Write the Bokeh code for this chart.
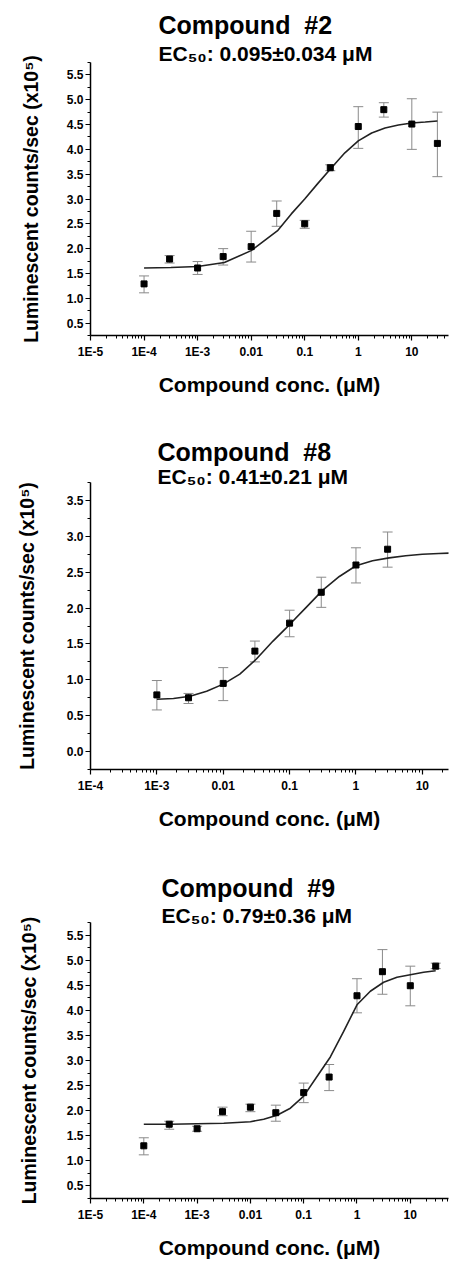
from bokeh.plotting import figure
from bokeh.models import (FixedTicker, Title, Whisker, ColumnDataSource, Range1d,
                          PrintfTickFormatter, TeeHead)
from bokeh.layouts import column
from bokeh.embed import file_html
from bokeh.resources import INLINE

# ---------------- data ----------------
titles = ["Compound \u00a0#2", "Compound \u00a0#8", "Compound \u00a0#9"]
subtitles = ["EC\u2085\u2080: 0.095\u00b10.034 \u03bcM",
             "EC\u2085\u2080: 0.41\u00b10.21 \u03bcM",
             "EC\u2085\u2080: 0.79\u00b10.36 \u03bcM"]

# Compound #2
conc1 = [1e-4, 3e-4, 1e-3, 3e-3, 1e-2, 3e-2, 0.1, 0.3, 1, 3, 10, 30]
mean1 = [1.29, 1.79, 1.61, 1.84, 2.04, 2.71, 2.50, 3.63, 4.46, 4.80, 4.51, 4.12]
hi1 = [1.45, 1.86, 1.74, 2.00, 2.35, 2.96, 2.57, 3.69, 4.86, 4.94, 5.02, 4.75]
lo1 = [1.11, 1.71, 1.48, 1.67, 1.73, 2.45, 2.41, 3.57, 4.02, 4.65, 4.00, 3.45]
fit1_logx = [-4, -3.5, -3, -2.5, -2, -1.5, -1.25, -1, -0.75, -0.5, -0.25, 0, 0.25, 0.5, 0.75, 1, 1.25, 1.477]
fit1_y = [1.61, 1.62, 1.64, 1.72, 1.96, 2.37, 2.70, 3.00, 3.32, 3.63, 3.93, 4.17, 4.33, 4.43, 4.49, 4.53, 4.55, 4.57]

# Compound #8
conc2 = [1e-3, 3e-3, 1e-2, 3e-2, 0.1, 0.3, 1, 3]
mean2 = [0.79, 0.75, 0.95, 1.40, 1.79, 2.22, 2.60, 2.82]
hi2 = [0.99, 0.81, 1.17, 1.54, 1.97, 2.43, 2.84, 3.06]
lo2 = [0.58, 0.67, 0.71, 1.25, 1.60, 2.01, 2.35, 2.57]
fit2_logx = [-3, -2.75, -2.5, -2.25, -2, -1.75, -1.5, -1.25, -1, -0.75, -0.5, -0.25, 0, 0.25, 0.5, 0.75, 1, 1.25, 1.5]
fit2_y = [0.73, 0.74, 0.77, 0.84, 0.94, 1.08, 1.29, 1.54, 1.77, 2.01, 2.25, 2.44, 2.59, 2.66, 2.70, 2.73, 2.75, 2.76, 2.77]

# Compound #9
conc3 = [1e-4, 3e-4, 1e-3, 3e-3, 1e-2, 3e-2, 0.1, 0.3, 1, 3, 10, 30]
mean3 = [1.30, 1.73, 1.64, 1.98, 2.07, 1.96, 2.36, 2.67, 4.29, 4.77, 4.49, 4.88]
hi3 = [1.46, 1.79, 1.69, 2.07, 2.13, 2.11, 2.55, 2.92, 4.63, 5.21, 4.88, 4.94]
lo3 = [1.12, 1.63, 1.59, 1.90, 1.98, 1.79, 2.16, 2.40, 3.95, 4.32, 4.09, 4.83]
fit3_logx = [-4, -3.5, -3, -2.5, -2, -1.75, -1.5, -1.25, -1, -0.75, -0.5, -0.25, 0, 0.25, 0.5, 0.75, 1, 1.25, 1.477]
fit3_y = [1.73, 1.73, 1.74, 1.75, 1.78, 1.83, 1.91, 2.05, 2.29, 2.68, 3.07, 3.58, 4.11, 4.38, 4.56, 4.66, 4.71, 4.76, 4.79]

x_tick_labels = {1e-5: "1E-5", 1e-4: "1E-4", 1e-3: "1E-3", 1e-2: "0.01", 1e-1: "0.1", 1.0: "1", 10.0: "10"}
x_label = "Compound conc. (\u03bcM)"
y_label = "Luminescent counts/sec (x10\u2075)"

FONT = "Liberation Sans"


def panel(conc, mean, hi, lo, fit_logx, fit_y, title, subtitle, xr, yr, yticks,
          height, b_top, b_bottom, b_left, b_right, t_offset, sub_standoff, title_standoff):
    p = figure(width=460, height=height, x_axis_type="log",
               x_range=Range1d(*xr), y_range=Range1d(*yr),
               output_backend="svg", toolbar_location=None, title=None,
               min_border_top=b_top, min_border_bottom=b_bottom,
               min_border_left=b_left, min_border_right=b_right)
    p.outline_line_color = None
    p.grid.visible = False
    p.background_fill_color = "white"
    p.border_fill_color = "white"

    p.add_layout(Title(text=subtitle, align="left", offset=t_offset, text_font=FONT,
                       text_font_size="21px", text_font_style="bold", text_color="black",
                       standoff=sub_standoff), "above")
    p.add_layout(Title(text=title, align="left", offset=t_offset, text_font=FONT,
                       text_font_size="25px", text_font_style="bold", text_color="black",
                       standoff=title_standoff), "above")

    majors = [t for t in x_tick_labels if xr[0] <= t <= xr[1]]
    minors = [m * 10.0 ** e for e in range(-6, 3) for m in range(2, 10)
              if xr[0] <= m * 10.0 ** e <= xr[1]]
    p.xaxis.ticker = FixedTicker(ticks=majors, minor_ticks=minors)
    p.xaxis.major_label_overrides = {t: x_tick_labels[t] for t in majors}

    ymin, ymax, ystep = yticks
    ymaj = []
    v = ymin
    while v <= ymax + 1e-9:
        ymaj.append(round(v, 2))
        v += ystep
    ymin_ticks = [round(t - ystep / 2, 3) for t in ymaj] + [round(ymaj[-1] + ystep / 2, 3)]
    p.yaxis.ticker = FixedTicker(ticks=ymaj, minor_ticks=ymin_ticks)
    p.yaxis.formatter = PrintfTickFormatter(format="%.1f")

    for ax in (p.xaxis[0], p.yaxis[0]):
        ax.axis_line_color = "black"
        ax.axis_line_width = 1.5
        ax.major_tick_line_color = "black"
        ax.minor_tick_line_color = "black"
        ax.major_tick_line_width = 1.2
        ax.minor_tick_line_width = 1
        ax.major_tick_in = 0
        ax.major_tick_out = 5
        ax.minor_tick_in = 0
        ax.minor_tick_out = 3
        ax.major_label_text_font = FONT
        ax.major_label_text_font_style = "bold"
        ax.major_label_text_font_size = "12px"
        ax.major_label_text_color = "black"
        ax.axis_label_text_font = FONT
        ax.axis_label_text_font_style = "bold"
        ax.axis_label_text_color = "black"

    p.xaxis.axis_label = x_label
    p.xaxis.axis_label_text_font_size = "21px"
    p.xaxis.major_label_standoff = 4
    p.xaxis.axis_label_standoff = 11
    p.yaxis.axis_label = y_label
    p.yaxis.axis_label_text_font_size = "19.5px"
    p.yaxis.major_label_standoff = 2
    p.yaxis.axis_label_standoff = int(round(b_left - 7 - 16.7 - 21.8 - 19))

    src = ColumnDataSource(dict(x=conc, y=mean, hi=hi, lo=lo))
    p.add_layout(Whisker(source=src, base="x", upper="hi", lower="lo",
                         line_color="#8a8a8a", line_width=1,
                         upper_head=TeeHead(size=10, line_color="#8a8a8a", line_width=1),
                         lower_head=TeeHead(size=10, line_color="#8a8a8a", line_width=1)))
    p.line([10.0 ** v for v in fit_logx], fit_y, line_color="#222222", line_width=1.6)
    p.scatter("x", "y", source=src, marker="square", size=6, color="black")
    return p


p1 = panel(conc1, mean1, hi1, lo1, fit1_logx, fit1_y, titles[0], subtitles[0],
           (1e-5, 48.4), (0.25, 5.75), (0.5, 5.5, 0.5),
           height=418, b_top=62, b_bottom=83, b_left=87, b_right=12,
           t_offset=68, sub_standoff=-4.9, title_standoff=6.3)
p2 = panel(conc2, mean2, hi2, lo2, fit2_logx, fit2_y, titles[1], subtitles[1],
           (1e-4, 24.8), (-0.25, 3.75), (0.0, 3.5, 0.5),
           height=420, b_top=64, b_bottom=69, b_left=90, b_right=0,
           t_offset=67, sub_standoff=-10.9, title_standoff=5.1)
p3 = panel(conc3, mean3, hi3, lo3, fit3_logx, fit3_y, titles[2], subtitles[2],
           (1e-5, 52.1), (0.25, 5.75), (0.5, 5.5, 0.5),
           height=423, b_top=84, b_bottom=59, b_left=89, b_right=0,
           t_offset=71, sub_standoff=-8.3, title_standoff=7.1)

layout = column(p1, p2, p3, spacing=0)
open("out.html", "w").write(file_html(layout, INLINE))
